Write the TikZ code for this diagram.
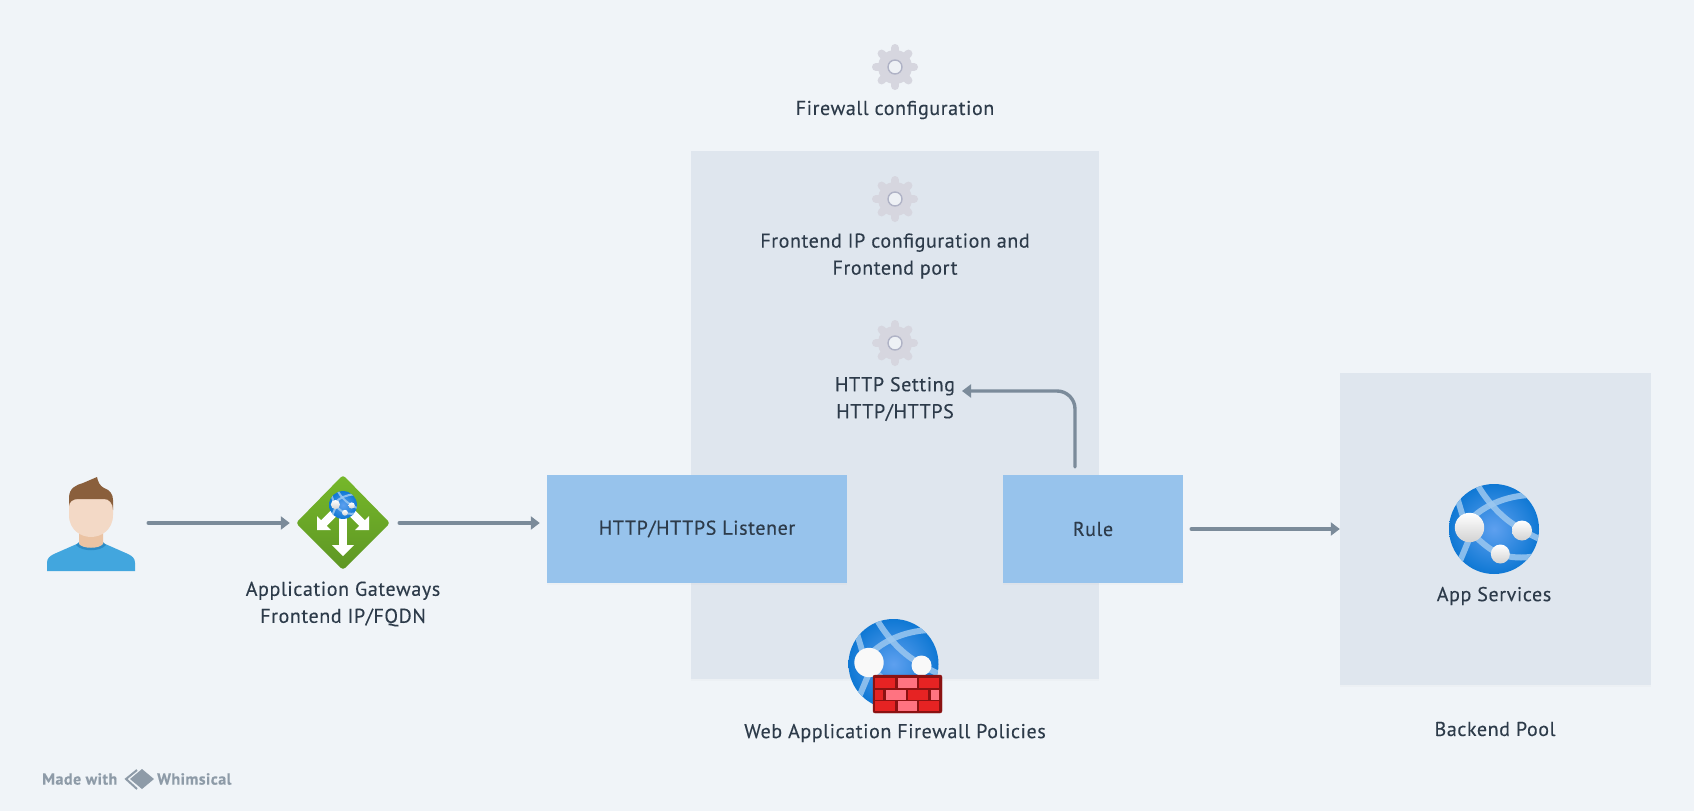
\documentclass[tikz,border=0pt]{standalone}
\usepackage{fontspec}
\setmainfont[LetterSpace=3,FakeBold=.25]{PT Sans}
\usetikzlibrary{arrows.meta,shadows}

\definecolor{pagebg}{HTML}{F0F4F8}
\definecolor{panelbg}{HTML}{DFE6EE}
\definecolor{boxbg}{HTML}{97C3EC}
\definecolor{flowcol}{HTML}{7B8B9A}
\definecolor{textcol}{HTML}{2D3B4A}
\definecolor{markcol}{HTML}{8E9BA8}
\definecolor{gearcol}{HTML}{D6D6DF}
\definecolor{ringcol}{HTML}{B0B3C6}
\definecolor{holecol}{HTML}{EEF1F5}
\definecolor{bandcol}{HTML}{9CC8F0}
\definecolor{globein}{HTML}{5EA0EF}
\definecolor{globeout}{HTML}{0F78D4}
\definecolor{gatetop}{HTML}{76B82A}
\definecolor{gatelow}{HTML}{5E9624}
\definecolor{bricka}{HTML}{E62323}
\definecolor{brickb}{HTML}{FF7381}
\definecolor{brickedge}{HTML}{8B1212}
\definecolor{shirtcol}{HTML}{42A6DE}
\definecolor{collarcol}{HTML}{2D8BC5}
\definecolor{neckcol}{HTML}{EBC3A3}
\definecolor{facecol}{HTML}{F3D9C6}
\definecolor{haircol}{HTML}{8A5F3C}

\tikzset{hide shadow/.style={drop shadow={shadow xshift=0pt,shadow yshift=-2pt,opacity=.03}}}
\tikzset{panel/.style={fill=panelbg,minimum width=#1,inner sep=0pt,hide shadow}}
\tikzset{listenbox/.style={fill=boxbg,minimum width=#1,minimum height=108pt,inner sep=0pt,text=textcol,font=\fontsize{20}{28}\selectfont,hide shadow}}
\tikzset{lbl/.style={text=textcol,font=\fontsize{20}{27}\selectfont,align=center,inner sep=0pt}}
\tikzset{flowline/.style={draw=flowcol,line width=3.4pt,line cap=round,-{Triangle[length=9pt,width=13pt]}}}
\tikzset{globeband/.style={draw=bandcol,line width=6pt,opacity=.85}}
\tikzset{globeball/.style={top color=white,bottom color=gray!35}}
\tikzset{markfont/.style={text=markcol,font=\fontsize{16}{18}\bfseries\selectfont,anchor=west,inner sep=0pt}}

\tikzset{gearicon/.pic={
\foreach \a in {0,45,...,315} {\draw[gearcol,line width=8pt,line cap=round] (0,0) -- (\a:19);}
\fill[gearcol] (0,0) circle (17);
\filldraw[draw=ringcol,fill=holecol,line width=1.4pt] (0,0) circle (7);
}}

\tikzset{globeicon/.pic={
\begin{scope}
\clip (0,0) circle (45);
\shade[inner color=globein,outer color=globeout] (0,0) circle (45);
\draw[globeband] (-18,-47) .. controls (-8,-28) and (8,-12) .. (19,-5) .. controls (28,1) and (38,7) .. (48,11);
\draw[globeband] (-24,-9) .. controls (-12,-22) and (10,-33) .. (36,-34);
\draw[globeband] (-37,-32) -- (-31,-12);
\draw[globeband] (-24,8) -- (-34,32);
\draw[globeband] (-18,8) .. controls (-8,18) and (4,26) .. (12,27) .. controls (22,29) and (32,29) .. (42,27);
\end{scope}
\path[globeball] (-24.5,-1.5) circle (14.7);
\path[globeball] (28,1.5) circle (10);
\path[globeball] (6.3,25) circle (9.5);
}}

\begin{document}
\begin{tikzpicture}[x=1pt,y=-1pt]
\path[use as bounding box,fill=pagebg] (0,0) rectangle (1694,811);

\node[panel=408pt,minimum height=528pt] (fwpanel) at (895,415) {};
\node[panel=311pt,minimum height=312pt] (backpanel) at (1495.5,529) {};
\node[listenbox=300pt] (listener) at (697,529) {HTTP/HTTPS Listener};
\node[listenbox=180pt] (rule) at (1093,529) {Rule};

% user
\node[minimum width=88pt,minimum height=94pt,inner sep=0pt] (user) at (91,523) {};
\fill[shirtcol] (47,571) -- (47,563) .. controls (47,558) and (50,556) .. (54,554) -- (79,543) -- (103,543) -- (128,554) .. controls (132,556) and (135,558) .. (135,563) -- (135,571) -- cycle;
\fill[collarcol] (76,545) .. controls (82,552) and (100,552) .. (106,545) -- (103,542) -- (79,542) -- cycle;
\fill[neckcol] (79,530) -- (79,544) .. controls (83,549) and (99,549) .. (103,544) -- (103,530) -- cycle;
\fill[facecol] (69,504) .. controls (69,495) and (113,495) .. (113,504) -- (113,515) .. controls (113,530) and (101,537) .. (91,537) .. controls (81,537) and (69,530) .. (69,515) -- cycle;
\fill[haircol] (69,506) -- (69,498) .. controls (69,488) and (76,485) .. (83,483) -- (97,477) .. controls (98,482) and (100,486) .. (104,488) .. controls (110,490) and (113,494) .. (113,500) -- (113,510) .. controls (113,503) and (109,499) .. (104,499) -- (78,499) .. controls (73,499) and (69,502) .. (69,506) -- cycle;

% gateway
\node[minimum width=90pt,minimum height=90pt,inner sep=0pt] (gateway) at (343,523) {};
\shade[top color=gatetop,bottom color=gatelow,rounded corners=3pt] (343,475) -- (390,523) -- (343,570) -- (296,523) -- cycle;
\draw[white,line width=8pt] (343,515) -- (343,548);
\fill[white] (332,545) -- (354,545) -- (343,556) -- cycle;
\draw[white,line width=8pt] (337,510) -- (323,524);
\fill[white] (317,530) -- (317,516) -- (331,530) -- cycle;
\draw[white,line width=8pt] (349,510) -- (363,524);
\fill[white] (369,530) -- (369,516) -- (355,530) -- cycle;
\pic[scale=.31,globeband/.append style={line width=2pt}] at (343,505) {globeicon};

% gears
\pic at (895,67) {gearicon};
\pic at (895,199) {gearicon};
\pic at (895,343) {gearicon};

% firewall
\pic[globeball/.style={fill=white!95!gray}] at (893.5,664) {globeicon};
\filldraw[draw=brickedge,fill=brickedge,rounded corners=2pt] (873,675) rectangle (942,713);
\foreach \l/\r/\t/\c in {875/895/678/a,898/917/678/b,919/939/678/a,875/883/690/a,886/906/690/b,908/928/690/a,931/939/690/b,875/895/701/a,898/917/701/b,919/939/701/a}
  \fill[color=brick\c] (\l,\t) rectangle (\r,\t+10);

% app services
\pic at (1494,529) {globeicon};

\node[lbl] (fwconf) at (895,110) {Firewall configuration};
\node[lbl] (frontconf) at (895,256) {Frontend IP configuration and\\Frontend port};
\node[lbl] (httpset) at (895,399) {HTTP Setting\\HTTP/HTTPS};
\node[lbl] (gwlabel) at (343,604) {Application Gateways\\Frontend IP/FQDN};
\node[lbl] (waflabel) at (895,733) {Web Application Firewall Policies};
\node[lbl] (applabel) at (1494,596) {App Services};
\node[lbl] (backlabel) at (1495,729) {Backend Pool};

\node[markfont] (madewith) at (42,779) {Made with};
\node[markfont] (whimsical) at (157,779) {Whimsical};
\fill[markcol] (142,769) -- (154,779) -- (142,789) -- (130,779) -- cycle;
\draw[markcol,line width=2pt] (137,770) -- (126,779) -- (137,789);

\coordinate (ruleout) at (1075,467);
\coordinate (settingin) at (962,391);
\draw[flowline,shorten <=13pt,shorten >=8pt] (user.east) -- (gateway.west);
\draw[flowline,shorten <=11pt,shorten >=7pt] (gateway.east) -- (gateway.east -| listener.west);
\draw[flowline,shorten <=8pt] (rule.east) -- (backpanel.west);
\draw[flowline,rounded corners=18pt] (ruleout) |- (settingin);
\end{tikzpicture}
\end{document}
